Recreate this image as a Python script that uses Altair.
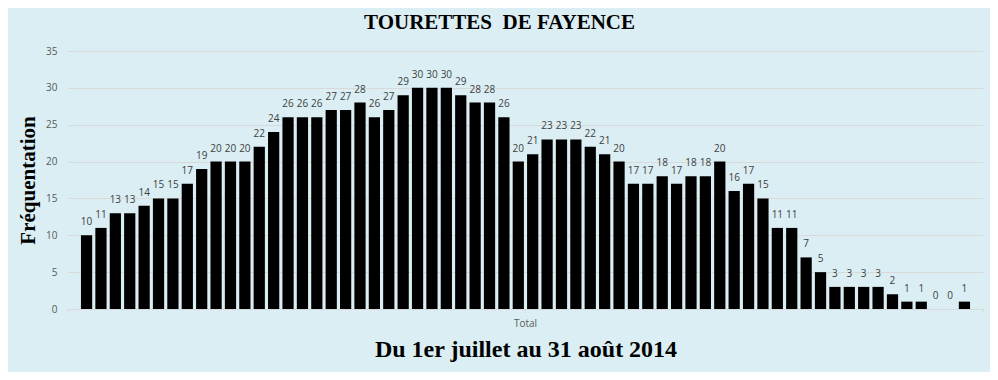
import altair as alt
import pandas as pd

# Daily attendance, 1 July - 31 August 2014 (62 days)
jours = list(range(1, 63))
frequentation = [10, 11, 13, 13, 14, 15, 15, 17, 19, 20,
                 20, 20, 22, 24, 26, 26, 26, 27, 27, 28,
                 26, 27, 29, 30, 30, 30, 29, 28, 28, 26,
                 20, 21, 23, 23, 23, 22, 21, 20, 17, 17,
                 18, 17, 18, 18, 20, 16, 17, 15, 11, 11,
                 7, 5, 3, 3, 3, 3, 2, 1, 1, 0,
                 0, 1]
y_ticks = [0, 5, 10, 15, 20, 25, 30, 35]
titre = "TOURETTES\u00a0 DE FAYENCE"
sous_titre = "Du 1er juillet au 31 août 2014"
categorie = "Total"
titre_y = "Fréquentation"

W, H = 915, 258
df = pd.DataFrame({"jour": jours, "freq": frequentation})

base = alt.Chart(df).encode(
    x=alt.X(
        "jour:O",
        scale=alt.Scale(paddingInner=0.22, paddingOuter=0.9),
        axis=alt.Axis(
            labels=False, ticks=False, domainColor="#D9D9D9", domainWidth=1,
            title=sous_titre, titleFont="Liberation Serif", titleFontSize=24,
            titleFontWeight="bold", titleColor="black",
            titleBaseline="alphabetic", titlePadding=47,
        ),
    ),
    y=alt.Y(
        "freq:Q",
        scale=alt.Scale(domain=[0, 35], nice=False),
        axis=alt.Axis(
            values=y_ticks, grid=True, gridColor="#D9D9D9", domain=False,
            ticks=False, labelPadding=11, labelColor="#595959",
            labelFont="Open Sans", labelFontSize=10,
            title=titre_y, titleFont="Liberation Serif", titleFontSize=21,
            titleFontWeight="bold", titleColor="black", titlePadding=7,
        ),
    ),
)

bars = base.mark_bar(color="black")
labels = base.mark_text(
    baseline="alphabetic", dy=-10, font="Open Sans", fontSize=10, color="#404040"
).encode(text="freq:Q")

tick_df = pd.DataFrame({"t": ["g", "m", "d"]})
ticks = alt.Chart(tick_df).mark_rule(color="#D9D9D9").encode(
    x=alt.XValue(alt.ExprRef("datum.t == 'g' ? 0 : datum.t == 'm' ? width / 2 : width")),
    y=alt.value(H),
    y2=alt.value(H + 4),
)

cat_df = pd.DataFrame({"c": [categorie]})
cat_label = alt.Chart(cat_df).mark_text(
    font="Open Sans", fontSize=10, color="#595959", baseline="alphabetic"
).encode(
    text="c:N",
    x=alt.value(W / 2),
    y=alt.value(H + 18),
)

chart = alt.layer(bars, labels, ticks, cat_label).properties(
    width=W,
    height=H,
    padding={"left": 60, "top": 43, "right": 7, "bottom": 63},
    autosize=alt.AutoSizeParams(type="none"),
    title=alt.TitleParams(
        titre, font="Liberation Serif", fontSize=21, fontWeight="bold",
        color="black", anchor="middle", dx=-26, dy=19, baseline="alphabetic",
        offset=15,
    ),
).configure(background="#DAEEF3").configure_view(stroke=None)

chart.save("out.html", embed_options={"renderer": "svg", "actions": False})
